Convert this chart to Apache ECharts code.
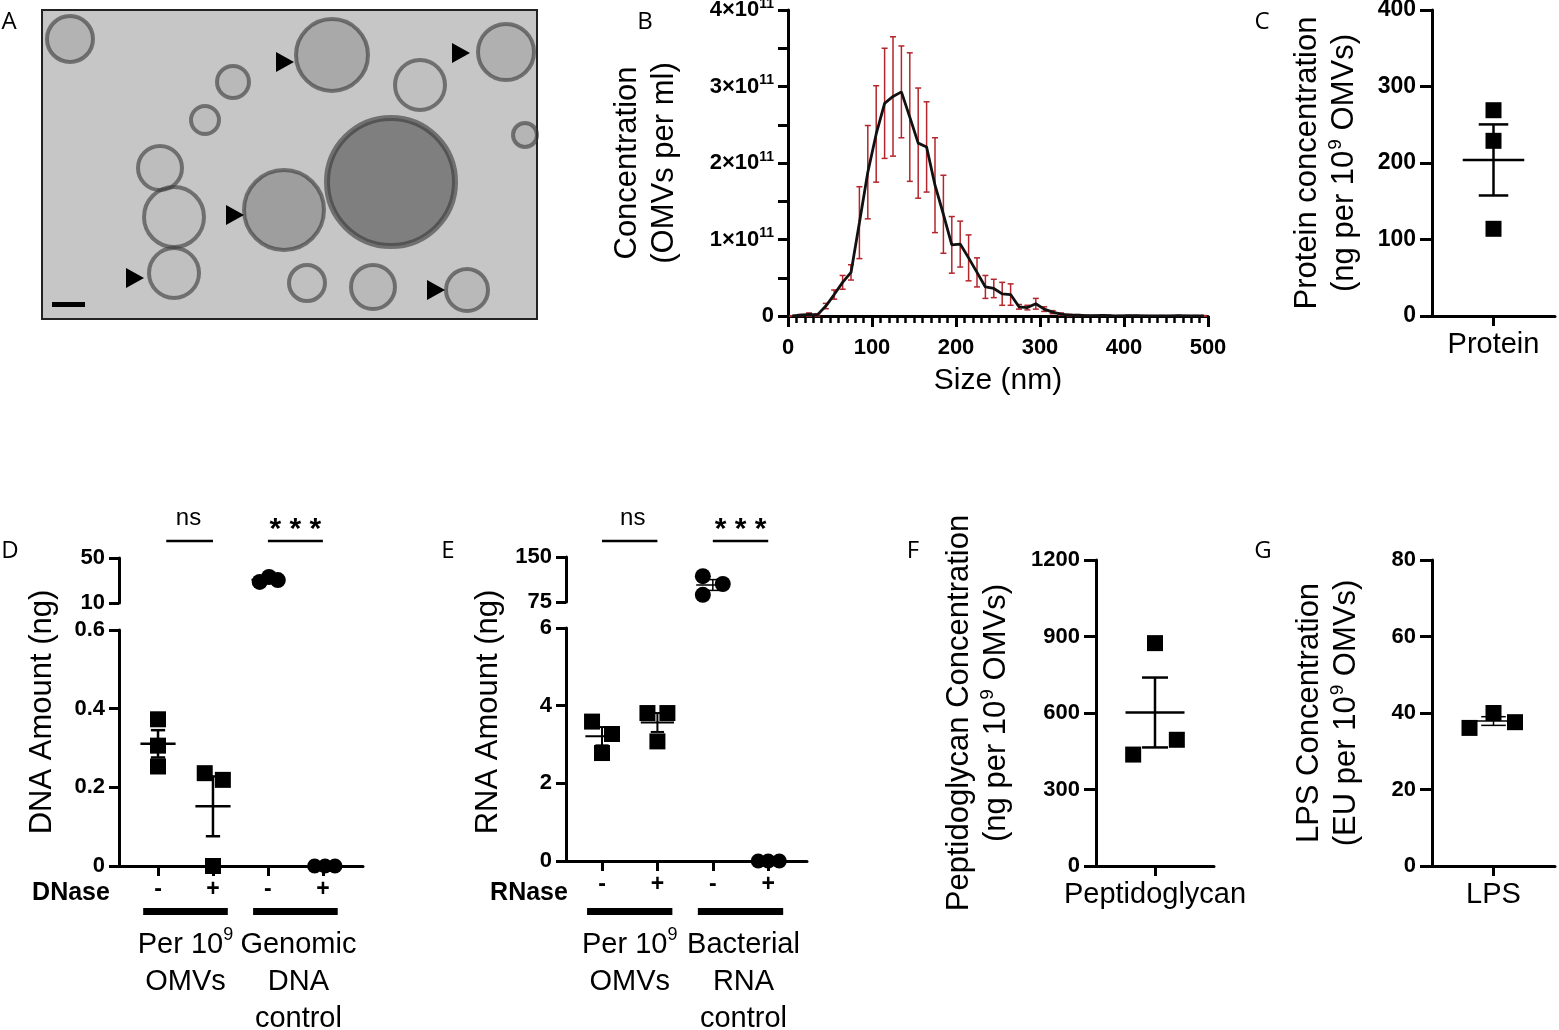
<!DOCTYPE html>
<html>
<head>
<meta charset="utf-8">
<style>
html, body { margin: 0; background: #fff; }
#chart { width: 1559px; height: 1030px; }
</style>
</head>
<body>
<div id="chart"></div>
<script src="https://cdn.jsdelivr.net/npm/echarts@6/dist/echarts.min.js"></script>
<script>
// ---- B: size distribution (size in nm, concentration in 1e11 OMVs/ml)
var sizeNm = [5, 15, 25, 35, 45, 55, 65, 75, 85, 95, 105, 115, 125, 135, 145, 155, 165, 175, 185, 195,
  205, 215, 225, 235, 245, 255, 265, 275, 285, 295, 305, 315, 325, 335, 345, 355, 365, 375, 385, 395,
  405, 415, 425, 435, 445, 455, 465, 475, 485, 495];
var concMean = [0, 0.01, 0.02, 0.015, 0.13, 0.28, 0.44, 0.57, 1.22, 1.88, 2.38, 2.78, 2.87, 2.93, 2.60, 2.26, 2.21, 1.71, 1.33, 0.93,
  0.94, 0.76, 0.57, 0.38, 0.36, 0.29, 0.28, 0.12, 0.11, 0.16, 0.09, 0.05, 0.025, 0.012, 0.01, 0.004, 0.003, 0.008, 0.003, 0.002,
  0.004, 0.003, 0.002, 0.001, 0.002, 0.001, 0.004, 0.002, 0.002, 0.002];
var concSem = [0, 0.01, 0.02, 0.015, 0.035, 0.06, 0.09, 0.10, 0.47, 0.61, 0.63, 0.72, 0.78, 0.60, 0.84, 0.72, 0.59, 0.62, 0.51, 0.37,
  0.30, 0.30, 0.19, 0.15, 0.12, 0.15, 0.14, 0.03, 0.03, 0.07, 0.03, 0.02, 0.015, 0.01, 0.008, 0.005, 0.004, 0.008, 0.004, 0.004,
  0.004, 0.004, 0.004, 0.004, 0.004, 0.004, 0.004, 0.004, 0.004, 0.004];

// ---- C, F, G: single groups of three
var proteinVals = [269, 229, 114];
var pgVals = [874, 495, 437];
var lpsVals = [36.1, 40.0, 37.6];

// ---- D, E: four groups (-/+ nuclease), third group lives on the upper axis segment
var nucleaseLabels = ['-', '+', '-', '+'];
var dnaVals = [[0.373, 0.306, 0.253], [0.236, 0.219, 0], [28.7, 33.1, 30.4], [0, 0, 0]];
var rnaVals = [[3.59, 3.27, 2.78], [3.81, 3.81, 3.08], [118, 87, 105], [0, 0, 0]];

// horizontal jitter of points inside a group (layout only)
var singleJitter = { protein: [0, 0, 0], pg: [0, 0.37, -0.37], lps: [-0.39, 0, 0.35] };
var dnaJitter = [[0, 0, 0], [-0.15, 0.18, 0], [-0.15, 0.02, 0.18], [-0.15, 0.04, 0.22]];
var rnaJitter = [[-0.18, 0.18, 0], [-0.18, 0.18, 0], [-0.18, -0.18, 0.18], [-0.18, 0, 0.2]];

var FONT = '"Liberation Sans", Arial, sans-serif';

function mean(a) { return a.reduce(function (s, v) { return s + v; }, 0) / a.length; }
function sem(a) {
  var m = mean(a);
  var ss = a.reduce(function (s, v) { return s + (v - m) * (v - m); }, 0);
  return Math.sqrt(ss / (a.length - 1)) / Math.sqrt(a.length);
}
function pts(vals, jit, x) {
  return vals.map(function (v, i) { return [x + jit[i], v]; });
}

function meanSemRender(hw, cw, lw) {
  return function (params, api) {
    var x = api.value(0), m = api.value(1), s = api.value(2);
    var a = api.coord([x - hw, m]), b = api.coord([x + hw, m]);
    var t = api.coord([x, m + s]), d = api.coord([x, m - s]);
    var cl = api.coord([x - cw, m])[0], cr = api.coord([x + cw, m])[0];
    var st = { stroke: '#000', lineWidth: lw };
    return { type: 'group', children: [
      { type: 'line', shape: { x1: a[0], y1: a[1], x2: b[0], y2: b[1] }, style: st },
      { type: 'line', shape: { x1: t[0], y1: t[1], x2: d[0], y2: d[1] }, style: st },
      { type: 'line', shape: { x1: cl, y1: t[1], x2: cr, y2: t[1] }, style: st },
      { type: 'line', shape: { x1: cl, y1: d[1], x2: cr, y2: d[1] }, style: st }
    ] };
  };
}

function errRender(params, api) {
  var x = api.value(0);
  var lo = api.coord([x, api.value(1)]), hi = api.coord([x, api.value(2)]);
  var st = { stroke: '#b3262b', lineWidth: 1.5 };
  return { type: 'group', children: [
    { type: 'line', shape: { x1: lo[0], y1: lo[1], x2: hi[0], y2: hi[1] }, style: st },
    { type: 'line', shape: { x1: lo[0] - 3, y1: lo[1], x2: lo[0] + 3, y2: lo[1] }, style: st },
    { type: 'line', shape: { x1: hi[0] - 3, y1: hi[1], x2: hi[0] + 3, y2: hi[1] }, style: st }
  ] };
}

var sup = { a: { fontSize: 31, fontFamily: FONT, lineHeight: 37 }, s: { fontSize: 19, fontFamily: FONT, verticalAlign: 'top', lineHeight: 37, padding: [0, 0, 0, 1] } };

function axLine() { return { show: true, onZero: false, lineStyle: { color: '#000', width: 3 } }; }
function ticks(len) { return { show: true, length: len, lineStyle: { color: '#000', width: 3 } }; }
function lbl(size, extra) {
  var o = { color: '#000', fontFamily: FONT, fontWeight: 'bold', fontSize: size, margin: 10,
    formatter: function (v) { return String(v); } };
  for (var k in extra) o[k] = extra[k];
  return o;
}

function grid(l, t, w, h) {
  return { left: l, top: t, width: w, height: h, containLabel: false, outerBoundsMode: 'none' };
}

var grids = [
  grid(788, 10, 420, 306),   // 0 B
  grid(1432, 10, 123, 306),  // 1 C
  grid(119, 558, 244, 45),   // 2 D upper
  grid(119, 630, 244, 236),  // 3 D lower
  grid(566, 557, 241, 45),   // 4 E upper
  grid(566, 628, 241, 233),  // 5 E lower
  grid(1096, 560, 118, 306), // 6 F
  grid(1432, 560, 123, 306)  // 7 G
];

function singleX(gi, label) {
  return {
    type: 'value', gridIndex: gi, min: 0, max: 2,
    axisLine: axLine(), splitLine: { show: false },
    axisTick: { show: true, length: 10, customValues: [1], lineStyle: { color: '#000', width: 3 } },
    axisLabel: { customValues: [1], formatter: function () { return label; }, color: '#000', fontFamily: FONT, fontSize: 29, margin: 14 }
  };
}
function groupX(gi, min, max, show) {
  return {
    type: 'value', gridIndex: gi, min: min, max: max, show: show,
    axisLine: axLine(), splitLine: { show: false },
    axisTick: { show: true, length: 10, customValues: [1, 2, 3, 4], lineStyle: { color: '#000', width: 3 } },
    axisLabel: { customValues: [1, 2, 3, 4], formatter: function (v) { return nucleaseLabels[Math.round(v) - 1]; },
      color: '#000', fontFamily: FONT, fontWeight: 'bold', fontSize: 23, margin: 12 }
  };
}
function valY(gi, min, max, interval, size, tick, name, gap) {
  var o = {
    type: 'value', gridIndex: gi, min: min, max: max, interval: interval,
    axisLine: axLine(), axisTick: ticks(tick), splitLine: { show: false },
    axisLabel: lbl(size, { margin: tick + 4 })
  };
  if (name) {
    o.name = name; o.nameLocation = 'middle'; o.nameGap = gap;
    o.nameTextStyle = { color: '#000', fontFamily: FONT, fontSize: 31, lineHeight: 37, rich: sup };
  }
  return o;
}

var xAxes = [
  {
    type: 'value', gridIndex: 0, min: 0, max: 500, interval: 100,
    axisLine: axLine(), splitLine: { show: false },
    axisTick: ticks(11),
    minorTick: { show: true, splitNumber: 10, length: 7, lineStyle: { color: '#000', width: 2.5 } },
    axisLabel: lbl(22, { margin: 21 }),
    name: 'Size (nm)', nameLocation: 'middle', nameGap: 50,
    nameTextStyle: { color: '#000', fontFamily: FONT, fontSize: 30 }
  },
  singleX(1, 'Protein'),
  groupX(2, 0.29, 4.73, false),
  groupX(3, 0.29, 4.73, true),
  groupX(4, 0.35, 4.7, false),
  groupX(5, 0.35, 4.7, true),
  singleX(6, 'Peptidoglycan'),
  singleX(7, 'LPS')
];

var yB = valY(0, 0, 4, 1, 22, 10, 'Concentration\n(OMVs per ml)', 105);
yB.minorTick = { show: true, splitNumber: 2, length: 10, lineStyle: { color: '#000', width: 3 } };
yB.axisLabel.formatter = function (v) { return v === 0 ? '{b|0}' : '{b|' + v + '×10}{s|11}'; };
yB.axisLabel.rich = {
  b: { fontFamily: FONT, fontWeight: 'bold', fontSize: 22, lineHeight: 26 },
  s: { fontFamily: FONT, fontWeight: 'bold', fontSize: 14, verticalAlign: 'top', lineHeight: 26 }
};

var yAxes = [
  yB,
  valY(1, 0, 400, 100, 23, 12, '{a|Protein concentration}\n{a|(ng per 10}{s|9}{a| OMVs)}', 69),
  valY(2, 10, 50, 40, 22, 10),
  valY(3, 0, 0.6, 0.2, 22, 10),
  valY(4, 75, 150, 75, 22, 10),
  valY(5, 0, 6, 2, 22, 10),
  valY(6, 0, 1200, 300, 22, 12, '{a|Peptidoglycan Concentration}\n{a|(ng per 10}{s|9}{a| OMVs)}', 81),
  valY(7, 0, 80, 20, 22, 12, '{a|LPS Concentration}\n{a|(EU per 10}{s|9}{a| OMVs)}', 67)
];

function scatter(gi, data, shape, size) {
  return { type: 'scatter', xAxisIndex: gi, yAxisIndex: gi, data: data, symbol: shape, symbolSize: size,
    itemStyle: { color: '#000', opacity: 1 }, z: 3, silent: true, clip: false };
}
function meanSeries(gi, items, hw, cw, lw) {
  return { type: 'custom', xAxisIndex: gi, yAxisIndex: gi, renderItem: meanSemRender(hw, cw, lw),
    data: items, encode: { x: 0, y: 1 }, z: 4, silent: true, clip: false };
}
function ms(vals, x) { return [x, mean(vals), sem(vals)]; }

var errData = sizeNm.map(function (x, i) { return [x, concMean[i] - concSem[i], concMean[i] + concSem[i]]; });
var lineData = sizeNm.map(function (x, i) { return [x, concMean[i]]; });

var series = [
  { type: 'custom', xAxisIndex: 0, yAxisIndex: 0, renderItem: errRender, data: errData, encode: { x: 0, y: [1, 2] }, z: 2, silent: true },
  { type: 'line', xAxisIndex: 0, yAxisIndex: 0, data: lineData, showSymbol: false, symbol: 'none',
    lineStyle: { color: '#111', width: 2.8 }, z: 3, silent: true },

  scatter(1, pts(proteinVals, singleJitter.protein, 1), 'rect', 16),
  meanSeries(1, [ms(proteinVals, 1)], 0.5, 0.24, 2.5),

  scatter(3, pts(dnaVals[0], dnaJitter[0], 1).concat(pts(dnaVals[1], dnaJitter[1], 2)), 'rect', 16),
  scatter(3, pts(dnaVals[3], dnaJitter[3], 4), 'circle', 15),
  meanSeries(3, [ms(dnaVals[0], 1), ms(dnaVals[1], 2)], 0.32, 0.13, 2.5),
  scatter(2, pts(dnaVals[2], dnaJitter[2], 3), 'circle', 16),
  meanSeries(2, [ms(dnaVals[2], 3)], 0.3, 0.12, 2),

  scatter(5, pts(rnaVals[0], rnaJitter[0], 1).concat(pts(rnaVals[1], rnaJitter[1], 2)), 'rect', 16),
  scatter(5, pts(rnaVals[3], rnaJitter[3], 4), 'circle', 15),
  meanSeries(5, [ms(rnaVals[0], 1), ms(rnaVals[1], 2)], 0.3, 0.12, 2),
  scatter(4, pts(rnaVals[2], rnaJitter[2], 3), 'circle', 16),
  meanSeries(4, [ms(rnaVals[2], 3)], 0.3, 0.12, 1.5),

  scatter(6, pts(pgVals, singleJitter.pg, 1), 'rect', 16),
  meanSeries(6, [ms(pgVals, 1)], 0.5, 0.22, 2.5),

  scatter(7, pts(lpsVals, singleJitter.lps, 1), 'rect', 16),
  meanSeries(7, [ms(lpsVals, 1)], 0.45, 0.2, 1.5)
];

var chart = echarts.init(document.getElementById('chart'), null, { renderer: 'canvas' });
chart.setOption({
  animation: false,
  backgroundColor: '#fff',
  grid: grids,
  xAxis: xAxes,
  yAxis: yAxes,
  series: series
});

// ---- annotations, placed from the axis scales
function px(gi, x) { return chart.convertToPixel({ gridIndex: gi }, [x, 0])[0]; }
function txt(x, y, text, size, weight, extra) {
  var st = { text: text, x: 0, y: 0, fill: '#000', fontFamily: FONT, fontSize: size, fontWeight: weight || 'normal',
    align: 'center', verticalAlign: 'middle' };
  for (var k in extra) st[k] = extra[k];
  return { type: 'text', x: x, y: y, style: st, z: 10 };
}
function hline(x1, x2, y, w) {
  return { type: 'line', shape: { x1: x1, y1: y, x2: x2, y2: y }, style: { stroke: '#000', lineWidth: w }, z: 10 };
}
var groupRich = { a: { fontSize: 29, fontFamily: FONT, lineHeight: 37 }, s: { fontSize: 18, fontFamily: FONT, verticalAlign: 'top', lineHeight: 37 } };

function nucleicPanel(gi, nuclease, nsFrom, ctrlText, nameX, nuclX, ylabel) {
  var g = [];
  var x1 = px(gi, nsFrom), x2 = px(gi, 2), x3 = px(gi, 3), x4 = px(gi, 4);
  g.push(hline(x1, x2, 541, 2.5));
  g.push(txt((px(gi, 1) + x2) / 2 + 3, 518, 'ns', 24));
  g.push(hline(x3, x4, 541, 2.5));
  g.push(txt((x3 + x4) / 2, 530, '* * *', 30, 'bold'));
  var c1 = px(gi, 1.5), c2 = px(gi, 3.5), half = px(gi, 1.5) - px(gi, 0.73);
  g.push({ type: 'rect', shape: { x: c1 - half, y: 908, width: half * 2, height: 7 }, style: { fill: '#000' }, z: 10 });
  g.push({ type: 'rect', shape: { x: c2 - half, y: 908, width: half * 2, height: 7 }, style: { fill: '#000' }, z: 10 });
  g.push(txt(c1, 963, '{a|Per 10}{s|9}\n{a|OMVs}', 29, 'normal', { rich: groupRich }));
  g.push(txt(c2 + 3, 982, ctrlText, 29, 'normal', { lineHeight: 37 }));
  g.push(txt(nuclX, 893, nuclease, 25, 'bold'));
  var yl = txt(nameX, 712, ylabel, 31);
  yl.rotation = Math.PI / 2;
  g.push(yl);
  return g;
}

var vesicles = [
  [70, 39, 23, 0.12], [332, 55, 36, 0.18], [506, 52, 28, 0.14], [391, 182, 64, 0.45], [284, 210, 40, 0.25],
  [174, 217, 30, 0.04], [174, 273, 25, 0.04], [467, 290, 21, 0.08], [233, 82, 16, 0.08], [373, 287, 22, 0.08],
  [307, 283, 18, 0.04], [420, 85, 25, 0.04], [160, 168, 22, 0.05], [525, 135, 12, 0.1], [205, 120, 14, 0.05]
];
var arrows = [[294, 62], [470, 53], [244, 215], [144, 278], [445, 290]];

var gA = [{ type: 'rect', shape: { x: 42, y: 10, width: 495, height: 309 }, style: { fill: '#c6c6c6', stroke: '#222', lineWidth: 2 }, z: 1 }];
vesicles.forEach(function (v) {
  gA.push({ type: 'circle', shape: { cx: v[0], cy: v[1], r: v[2] },
    style: { fill: 'rgba(40,40,40,' + v[3] + ')', stroke: 'rgba(55,55,55,0.6)', lineWidth: v[2] > 50 ? 6 : 4 }, z: 2 });
});
arrows.forEach(function (a) {
  gA.push({ type: 'polygon', shape: { points: [[a[0], a[1]], [a[0] - 18, a[1] - 10], [a[0] - 18, a[1] + 10]] }, style: { fill: '#000' }, z: 3 });
});
gA.push({ type: 'rect', shape: { x: 52, y: 302, width: 33, height: 5 }, style: { fill: '#000' }, z: 3 });

var letters = [['A', 9, 22], ['B', 645, 22], ['C', 1262, 22], ['D', 10, 551], ['E', 448, 551], ['F', 913, 551], ['G', 1263, 551]];
var gL = letters.map(function (l) { return txt(l[1], l[2], l[0], 24, 'normal', { fontFamily: '"Open Sans", sans-serif' }); });

var graphics = gA.concat(gL)
  .concat(nucleicPanel(3, 'DNase', 1.15, 'Genomic\nDNA\ncontrol', 42, 71, 'DNA Amount (ng)'))
  .concat(nucleicPanel(5, 'RNase', 1, 'Bacterial\nRNA\ncontrol', 488, 529, 'RNA Amount (ng)'));

chart.setOption({ graphic: graphics });
</script>
</body>
</html>
